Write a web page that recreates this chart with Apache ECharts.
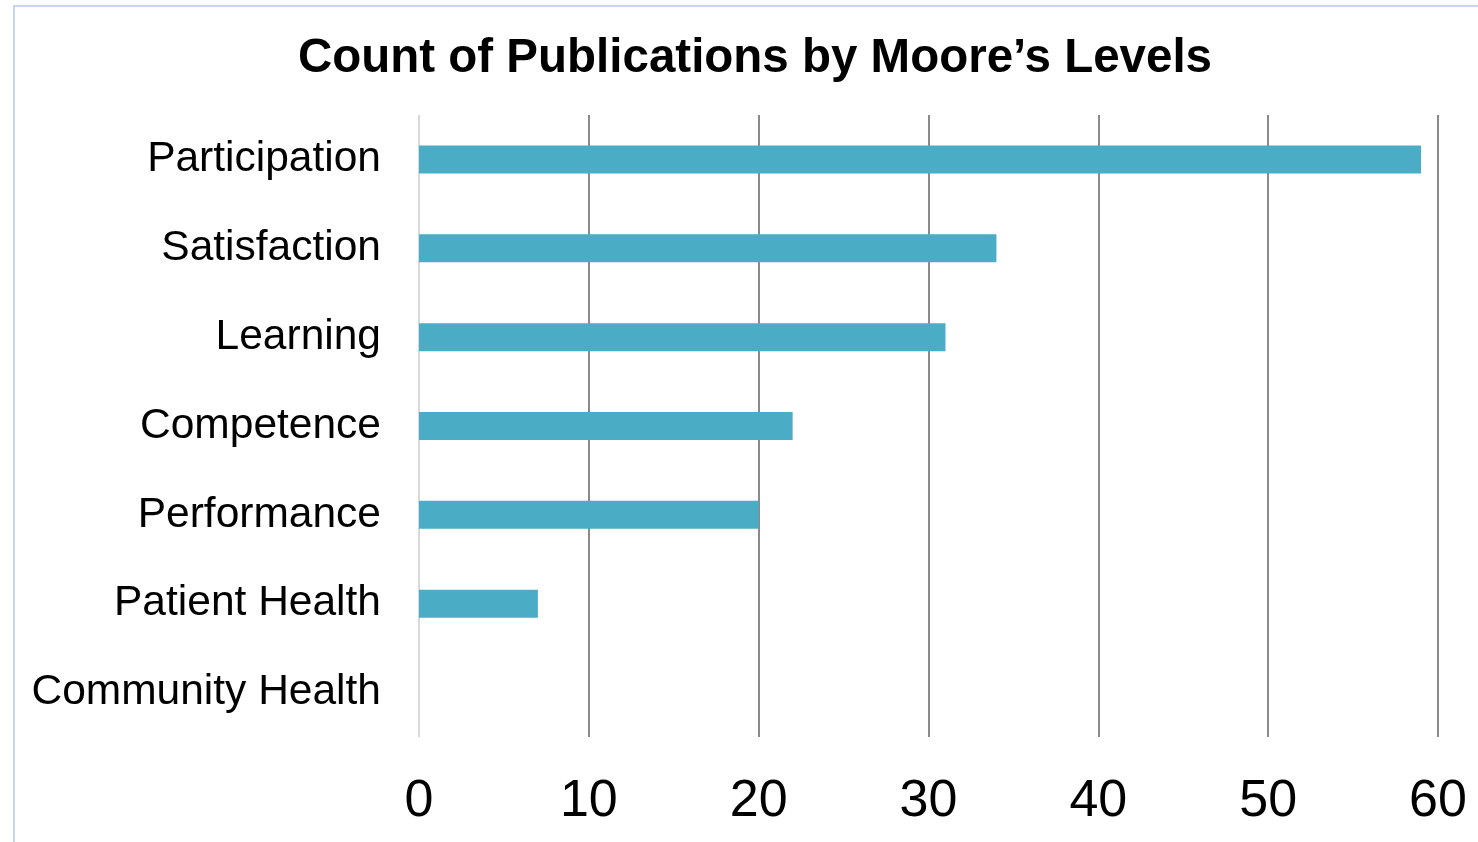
<!DOCTYPE html>
<html>
<head>
<meta charset="utf-8">
<script src="https://cdn.jsdelivr.net/npm/echarts@6/dist/echarts.min.js"></script>
<style>
  html, body { margin: 0; padding: 0; background: #fff; }
  #chart { width: 1478px; height: 842px; }
</style>
</head>
<body>
<div id="chart"></div>
<script>
// Moore's levels, top to bottom
const levels = ['Participation', 'Satisfaction', 'Learning', 'Competence', 'Performance', 'Patient Health', 'Community Health'];
const counts = [59, 34, 31, 22, 20, 7, 0];
const xTicks = [0, 10, 20, 30, 40, 50, 60];

const chart = echarts.init(document.getElementById('chart'));

// first grid line (at 0) is drawn lighter than the others
const gridColors = xTicks.map((t, i) => (i === 0 ? '#d9d9d9' : '#8a8a8a'));

const options = {
  animation: false,
  textStyle: { fontFamily: '"Liberation Sans", Arial, sans-serif' },
  title: {
    text: 'Count of Publications by Moore\u2019s Levels',
    left: 750,
    textAlign: 'center',
    top: 30,
    textStyle: { fontSize: 47.5, fontWeight: 'bold', color: '#000' }
  },
  graphic: [{
    type: 'rect',
    shape: { x: 14, y: 6, width: 1600, height: 1000 },
    style: { fill: 'none', stroke: '#c6d6ec', lineWidth: 2 },
    silent: true
  }],
  grid: { left: 419, right: 40, top: 115, bottom: 105 },
  xAxis: {
    type: 'value',
    min: xTicks[0],
    max: xTicks[xTicks.length - 1],
    interval: 10,
    axisLine: { show: false },
    axisTick: { show: false },
    axisLabel: { fontSize: 52, color: '#000', margin: 39 },
    splitLine: {
      show: true,
      lineStyle: { width: 2, color: gridColors }
    }
  },
  yAxis: {
    type: 'category',
    inverse: true,
    data: levels,
    axisLine: { show: false },
    axisTick: { show: false },
    axisLabel: { fontSize: 42.5, color: '#000', margin: 38, padding: [4, 0, 0, 0] }
  },
  series: [{
    type: 'bar',
    data: counts,
    barWidth: 28,
    itemStyle: { color: '#4bacc6' }
  }]
};

chart.setOption(options);
</script>
</body>
</html>
